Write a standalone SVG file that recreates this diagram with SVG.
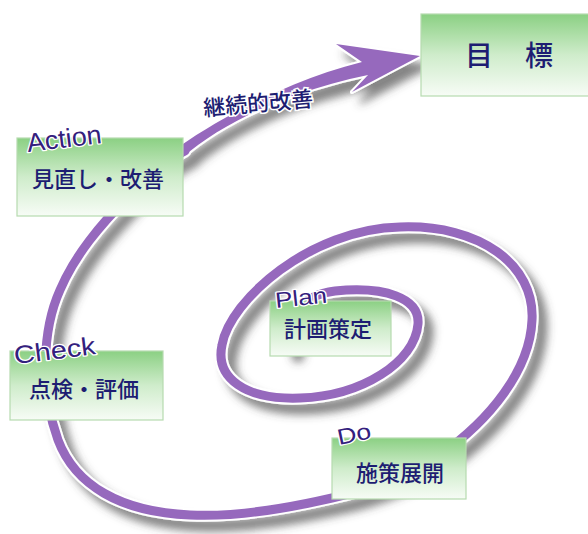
<svg xmlns="http://www.w3.org/2000/svg" width="588" height="534" viewBox="0 0 588 534">
<defs>
<linearGradient id="g" x1="0" y1="0" x2="0" y2="1">
<stop offset="0" stop-color="#8bd083"/>
<stop offset="0.5" stop-color="#cfeccb"/>
<stop offset="1" stop-color="#f7fcf6"/>
</linearGradient>
<filter id="sh" filterUnits="userSpaceOnUse" x="0" y="0" width="588" height="534">
<feGaussianBlur in="SourceAlpha" stdDeviation="4"/>
<feOffset dx="9" dy="10" result="b"/>
<feFlood flood-color="#444" flood-opacity="0.65"/>
<feComposite in2="b" operator="in" result="s"/>
<feMerge><feMergeNode in="s"/><feMergeNode in="SourceGraphic"/></feMerge>
</filter>
<style>
.box{fill:url(#g);stroke:#b6dbb0;stroke-width:1.2}
.jp{font-family:"Noto Sans CJK JP","Noto Sans CJK SC",sans-serif;fill:#1d1d72;font-weight:500}
.t22{font-size:22px}
.lb{font-family:"Liberation Sans",Arial,sans-serif;fill:#33207d;stroke:#fff;stroke-width:2.5;paint-order:stroke;stroke-linejoin:round}
.halo{fill:none;stroke:#fff;stroke-width:13;stroke-linecap:round}
.sp{fill:none;stroke:#9669bd;stroke-width:9;stroke-linecap:round}
</style>
</defs>
<rect width="588" height="534" fill="#fff"/>
<g id="connectors" filter="url(#sh)">
<path class="halo" d="M 289 346 C 288 318 300 295 335 291 C 385 286 420 298 418 324 C 415 362 362 396 300 398 C 245 400 215 378 222 345 C 230 300 310 229 400 227 C 480 224 535 265 532 320 C 530 370 490 420 440 455 C 400 480 360 492 332 498 C 280 510 230 517 190 515 C 120 512 75 485 58 440 C 40 390 42 330 60 290 C 75 255 100 225 130 195 C 150 175 165 160 185 151"/>
<path d="M 180 146 C 220 118 290 80 362 62 L 336 44 L 420 56 L 352 92 L 368 75 C 295 90 225 120 182 158 Z" fill="#fff" stroke="#fff" stroke-width="4" stroke-linejoin="round"/>
<path class="sp" d="M 289 346 C 288 318 300 295 335 291 C 385 286 420 298 418 324 C 415 362 362 396 300 398 C 245 400 215 378 222 345 C 230 300 310 229 400 227 C 480 224 535 265 532 320 C 530 370 490 420 440 455 C 400 480 360 492 332 498 C 280 510 230 517 190 515 C 120 512 75 485 58 440 C 40 390 42 330 60 290 C 75 255 100 225 130 195 C 150 175 165 160 185 151"/>
<path d="M 180 146 C 220 118 290 80 362 62 L 336 44 L 420 56 L 352 92 L 368 75 C 295 90 225 120 182 158 Z" fill="#9669bd"/>
</g>
<text class="jp" x="204" y="116" style="font-size:22px" transform="rotate(-5 204 116)" stroke="#fff" stroke-width="3" paint-order="stroke">継続的改善</text>
<g id="goal">
<rect class="box" x="421" y="14" width="175" height="82"/>
<text class="jp" x="465" y="66" style="font-size:28px;letter-spacing:2px">目　標</text>
</g>
<g id="action">
<rect class="box" x="17" y="138" width="166" height="78"/>
<text class="jp t22" x="32" y="187">見直し・改善</text>
<text class="lb" x="28" y="152" font-size="26" textLength="75" lengthAdjust="spacingAndGlyphs" transform="rotate(-7 28 152)">Action</text>
</g>
<g id="check">
<rect class="box" x="10" y="351" width="153" height="69"/>
<text class="jp t22" x="29" y="397">点検・評価</text>
<text class="lb" x="15" y="364" font-size="25" textLength="82" lengthAdjust="spacingAndGlyphs" transform="rotate(-7 15 364)">Check</text>
</g>
<g id="plan">
<rect class="box" x="270" y="301" width="121" height="55"/>
<text class="jp t22" x="284" y="337">計画策定</text>
<text class="lb" x="276" y="308" font-size="22" textLength="52" lengthAdjust="spacingAndGlyphs" transform="rotate(-6 276 308)">Plan</text>
</g>
<g id="do">
<rect class="box" x="332" y="438" width="134" height="61"/>
<text class="jp t22" x="356" y="481">施策展開</text>
<text class="lb" x="339" y="445" font-size="22" textLength="34" lengthAdjust="spacingAndGlyphs" transform="rotate(-12 339 445)">Do</text>
</g>
</svg>
